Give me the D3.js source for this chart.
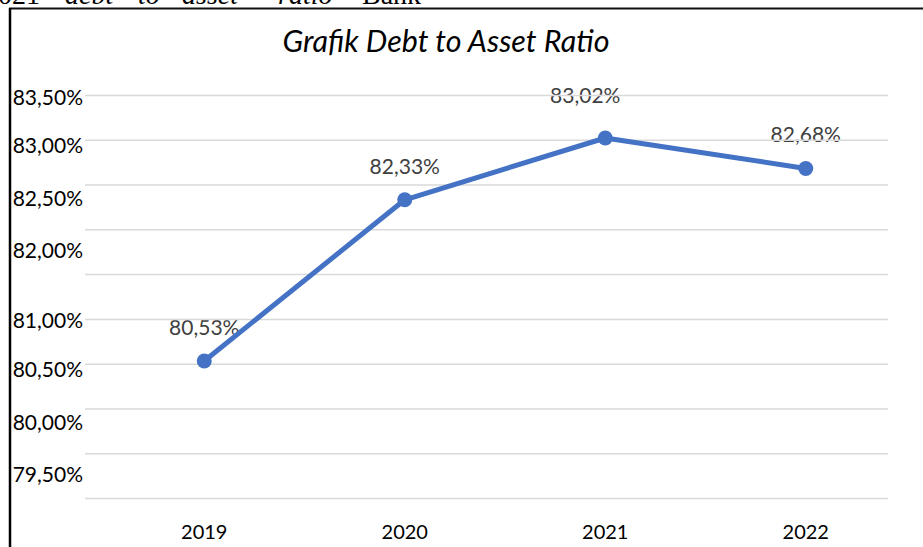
<!DOCTYPE html>
<html>
<head>
<meta charset="utf-8">
<script src="https://cdn.jsdelivr.net/npm/d3@7"></script>
<style>
  body { margin: 0; background: #fff; }
  svg { display: block; font-family: Lato, "Open Sans", sans-serif; }
</style>
</head>
<body>
<svg class="chart" width="923" height="547"></svg>
<script>
var years = ['2019', '2020', '2021', '2022'];
var ratios = [80.53, 82.33, 83.02, 82.68];
var tickLabels = ['83,50%', '83,00%', '82,50%', '82,00%', '81,00%', '80,50%', '80,00%', '79,50%'];
// value each tick label sits at (in the original they drift off their gridlines)
var tickLabelAt = [83.475, 82.94, 82.35, 81.76, 80.98, 80.44, 79.84, 79.26];
var headerWords = ['2021', 'debt', 'to', 'asset', 'ratio', 'Bank'];

(function() {
  var svg = d3.select('.chart');

  buildFrame();
  buildChart();

  function buildFrame() {
    // page text cut off above the chart box
    var header = svg.append('text')
      .attr('y', 4)
      .attr('font-family', '"Liberation Serif", "DejaVu Serif", serif')
      .attr('font-size', 28)
      .attr('fill', '#000');
    var starts = [-16, 65, 138, 182, 278, 362];
    headerWords.forEach(function(w, i) {
      header.append('tspan')
        .attr('x', starts[i])
        .attr('font-style', (i === 0 || i === 5) ? 'normal' : 'italic')
        .text(w);
    });

    svg.append('line')
      .attr('x1', 9).attr('x2', 923)
      .attr('y1', 8.5).attr('y2', 8.5)
      .attr('stroke', '#111').attr('stroke-width', 2);
    svg.append('line')
      .attr('x1', 10).attr('x2', 10)
      .attr('y1', 8).attr('y2', 547)
      .attr('stroke', '#000').attr('stroke-width', 2.5);
  }

  function buildChart() {
    var y = d3.scaleLinear().domain([79, 83.5]).range([498, 95]);
    var x = d3.scalePoint().domain(years).range([104, 906]).padding(0.5);
    var gridLeft = 85, gridRight = 888;

    // title
    var title = svg.append('text')
      .attr('x', 446)
      .attr('y', 52)
      .attr('text-anchor', 'middle')
      .attr('font-style', 'italic')
      .attr('font-size', 27)
      .attr('fill', '#000')
      .text('Grafik Debt to Asset Ratio');
    var tw = title.node().getComputedTextLength();
    title.attr('font-size', 27 * 327 / tw);

    // tick labels
    svg.append('g')
      .selectAll('text')
      .data(tickLabels)
      .enter().append('text')
        .attr('x', 83)
        .attr('y', function(d, i) { return y(tickLabelAt[i]); })
        .attr('dy', '0.36em')
        .attr('text-anchor', 'end')
        .attr('font-size', 21)
        .attr('fill', '#000')
        .text(function(d) { return d; });

    // data labels (drawn under the gridlines, as in the original)
    var pts = years.map(function(yr, i) { return { year: yr, value: ratios[i] }; });
    svg.append('g')
      .selectAll('text')
      .data(pts)
      .enter().append('text')
        .attr('x', function(d) { return x(d.year) + (d.year === '2021' ? -20 : 0); })
        .attr('y', function(d) { return y(d.value) - (d.year === '2021' ? 35 : 26); })
        .attr('text-anchor', 'middle')
        .attr('font-size', 21)
        .attr('fill', '#404040')
        .text(function(d) { return d3.format('.2f')(d.value).replace('.', ',') + '%'; });

    // gridlines
    var grid = svg.append('g')
      .attr('transform', 'translate(' + gridLeft + ',0)')
      .call(d3.axisLeft(y)
        .ticks(10)
        .tickSize(-(gridRight - gridLeft))
        .tickFormat(''));
    grid.select('.domain').remove();
    grid.selectAll('line')
      .attr('stroke', '#d9d9d9')
      .attr('stroke-width', 1.5);

    // x labels
    svg.append('g')
      .selectAll('text')
      .data(years)
      .enter().append('text')
        .attr('x', function(d) { return x(d); })
        .attr('y', 539)
        .attr('text-anchor', 'middle')
        .attr('font-size', 20)
        .attr('fill', '#000')
        .text(function(d) { return d; });

    var line = d3.line()
      .x(function(d) { return x(d.year); })
      .y(function(d) { return y(d.value); });

    svg.append('path')
      .datum(pts)
      .attr('d', line)
      .attr('fill', 'none')
      .attr('stroke', '#4472c4')
      .attr('stroke-width', 5)
      .attr('stroke-linejoin', 'round');

    svg.append('g')
      .selectAll('circle')
      .data(pts)
      .enter().append('circle')
        .attr('cx', function(d) { return x(d.year); })
        .attr('cy', function(d) { return y(d.value); })
        .attr('r', 7.5)
        .attr('fill', '#4472c4');
  }
})();
</script>
</body>
</html>
